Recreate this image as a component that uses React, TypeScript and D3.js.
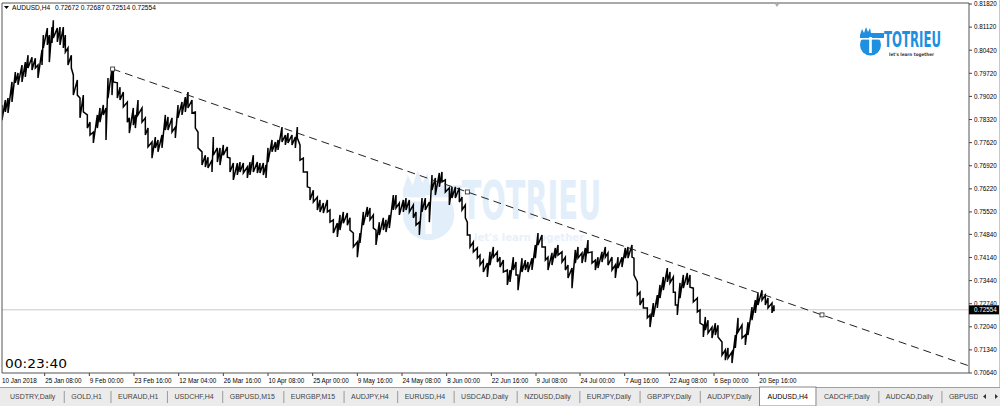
import React from 'react';
import * as d3 from 'd3';

// ---------- DATA ----------
const SYMBOL = 'AUDUSD,H4';
const HEADER_OHLC = ['0.72672', '0.72687', '0.72514', '0.72554'];
const BID = 0.72554;
const TIMER = '00:23:40';

// sampled H4 bar index (from 10 Jan 2018 00:00) with high / low readings
const BAR_IDX = [0,5,9,15,20,24,30,35,39,45,50,54,60,62,68,71,75,77,83,87,92,95,99,104,107,113,117,122,128,132,137,143,147,152,156,159,165,167,173,177,182,188,191,197,200,204,210,215,219,225,230,234,240,245,249,255,260,264,270,275,279,285,290,294,300,305,309,315,317,323,327,332,338,342,347,353,357,362,368,372,377,383,387,392,396,399,405,410,414,420,425,429,435,440,443,447,452,458,462,467,473,477,482,488,492,497,503,507,512,518,522,527,533,537,542,548,552,557,561,566,572,576,581,587,591,596,602,606,611,617,621,626,630,635,641,645,650,656,660,665,671,675,680,686,690,695,698,702,707,713,717,722,728,732,737,743,747,752,758,762,767,771,774,780,785,789,795,800,804,810,815,819,825,830,834,840,845,849,855,860,864,870,875,879,885,890,894,900,905,909,915,920,924,930,935,939,945,948,953,957,962,968,972,977,983,987,992,998,1002,1007,1010,1013,1017,1022,1028,1032,1037,1043,1047,1052,1055,1059,1065,1070,1074,1080,1085,1089,1095,1100,1104,1110,1115,1119,1125,1130,1134,1140,1145,1149,1155,1158];
const HIGH = [.7876,.7891,.7897,.7946,.7976,.7973,.7997,.8006,.8027,.8021,.8018,.7997,.8043,.8088,.8109,.8088,.8112,.8133,.8109,.8112,.8112,.8088,.8049,.8027,.7967,.7952,.7897,.7906,.7846,.7824,.7794,.7846,.7867,.7876,.7867,.7958,.7988,.7988,.7943,.7930,.7915,.7885,.7837,.7867,.7846,.7891,.7867,.7837,.7806,.7764,.7779,.7770,.7785,.7846,.7840,.7837,.7809,.7876,.7885,.7900,.7915,.7891,.7855,.7794,.7734,.7724,.7718,.7709,.7779,.7746,.7746,.7755,.7749,.7715,.7700,.7700,.7703,.7700,.7688,.7703,.7724,.7703,.7700,.7700,.7694,.7746,.7770,.7764,.7770,.7809,.7785,.7791,.7785,.7779,.7809,.7755,.7715,.7673,.7625,.7618,.7597,.7588,.7579,.7588,.7558,.7528,.7518,.7543,.7552,.7549,.7534,.7488,.7461,.7488,.7552,.7567,.7564,.7543,.7497,.7521,.7534,.7528,.7543,.7603,.7603,.7579,.7588,.7594,.7588,.7573,.7552,.7521,.7594,.7594,.7582,.7664,.7655,.7670,.7673,.7649,.7625,.7628,.7628,.7625,.7597,.7573,.7521,.7482,.7461,.7443,.7421,.7406,.7397,.7431,.7446,.7431,.7415,.7406,.7376,.7376,.7415,.7400,.7361,.7412,.7406,.7400,.7412,.7452,.7488,.7482,.7446,.7415,.7428,.7443,.7452,.7431,.7415,.7391,.7382,.7437,.7446,.7428,.7443,.7467,.7431,.7406,.7415,.7431,.7446,.7428,.7415,.7391,.7415,.7415,.7443,.7446,.7452,.7412,.7340,.7309,.7291,.7261,.7240,.7276,.7300,.7331,.7355,.7382,.7370,.7355,.7309,.7270,.7337,.7361,.7367,.7361,.7321,.7291,.7255,.7209,.7234,.7224,.7203,.7215,.7209,.7158,.7134,.7140,.7128,.7179,.7231,.7209,.7179,.7218,.7264,.7285,.7306,.7315,.7300,.7291,.7276,.7269];
const LOW = [.7830,.7855,.7852,.7885,.7943,.7937,.7946,.7961,.7988,.7982,.7988,.7958,.7997,.8049,.8058,.8006,.8064,.8079,.8067,.8058,.8049,.8036,.7997,.7988,.7906,.7906,.7837,.7855,.7806,.7785,.7761,.7806,.7824,.7846,.7770,.7897,.7906,.7946,.7897,.7891,.7870,.7824,.7791,.7815,.7806,.7846,.7824,.7785,.7749,.7715,.7746,.7734,.7746,.7800,.7800,.7794,.7776,.7837,.7846,.7855,.7867,.7852,.7806,.7746,.7694,.7688,.7685,.7673,.7724,.7703,.7694,.7724,.7718,.7673,.7649,.7664,.7673,.7670,.7655,.7664,.7673,.7670,.7670,.7664,.7655,.7703,.7734,.7734,.7740,.7764,.7755,.7761,.7755,.7746,.7776,.7709,.7673,.7628,.7588,.7582,.7558,.7552,.7549,.7552,.7521,.7488,.7476,.7497,.7518,.7512,.7497,.7446,.7415,.7458,.7512,.7537,.7528,.7503,.7452,.7482,.7497,.7491,.7503,.7558,.7564,.7543,.7552,.7558,.7552,.7534,.7512,.7482,.7552,.7558,.7521,.7618,.7603,.7628,.7643,.7612,.7573,.7594,.7594,.7582,.7558,.7534,.7482,.7446,.7431,.7412,.7391,.7370,.7355,.7391,.7415,.7400,.7385,.7370,.7331,.7340,.7376,.7361,.7315,.7370,.7376,.7370,.7376,.7412,.7452,.7446,.7406,.7376,.7391,.7412,.7421,.7400,.7376,.7352,.7321,.7397,.7412,.7397,.7400,.7428,.7397,.7376,.7382,.7400,.7415,.7391,.7376,.7352,.7382,.7385,.7412,.7412,.7415,.7361,.7300,.7270,.7261,.7231,.7203,.7234,.7261,.7291,.7315,.7340,.7337,.7309,.7270,.7240,.7291,.7321,.7331,.7324,.7279,.7249,.7215,.7173,.7194,.7185,.7170,.7179,.7173,.7118,.7103,.7109,.7094,.7140,.7188,.7170,.7149,.7179,.7224,.7246,.7270,.7285,.7270,.7261,.7246,.7251];

const Y_TICKS = ['0.81820','0.81120','0.80420','0.79720','0.79020','0.78320','0.77620','0.76920','0.76220','0.75520','0.74840','0.74140','0.73440','0.72740','0.72040','0.71340','0.70640'];
const X_TICK_BARS = [0,64,131,198,265,332,399,466,533,600,667,734,801,867,934,1001,1068,1135];
const X_TICK_LABELS = ['10 Jan 2018','25 Jan 08:00','9 Feb 00:00','23 Feb 16:00','12 Mar 04:00','26 Mar 16:00','10 Apr 08:00','25 Apr 00:00','9 May 16:00','24 May 08:00','8 Jun 00:00','22 Jun 16:00','9 Jul 08:00','24 Jul 00:00','7 Aug 16:00','22 Aug 08:00','6 Sep 00:00','20 Sep 16:00'];

// trend line anchors (bar index, price)
const TREND_BARS = [166, 1230];
const TREND_PRICES = [0.7985, 0.7240];

const TABS = ['USDTRY,Daily','GOLD,H1','EURAUD,H1','USDCHF,H4','GBPUSD,M15','EURGBP,M15','AUDJPY,H4','EURUSD,H4','USDCAD,Daily','NZDUSD,Daily','EURJPY,Daily','GBPJPY,Daily','AUDJPY,Daily','AUDUSD,H4','CADCHF,Daily','AUDCAD,Daily','GBPUSD,'];
const ACTIVE_TAB = 'AUDUSD,H4';

const LOGO_TITLE = 'TOTRIEU';
const LOGO_SUB = "let's learn together";

// ---------- LAYOUT ----------
const W = 1000, H = 406;
const PL = 2, PR = 969, PT = 3, PB = 373;
const AX_FONT = '"Liberation Sans", Arial, sans-serif';
const LOGO_FONT = '"DejaVu Sans", sans-serif';
const LOGO_BLUE = '#1f8fe0';

let measureCtx: CanvasRenderingContext2D | null = null;
function textWidth(s: string, font: string) {
  if (!measureCtx) measureCtx = document.createElement('canvas').getContext('2d');
  if (!measureCtx) return s.length * 4;
  measureCtx.font = font;
  return measureCtx.measureText(s).width;
}

// text squeezed horizontally to a target width by a transform (no textLength)
function FitText({ x, y, text, size, width, bold, fill, family }: { x: number; y: number; text: string; size: number; width: number; bold?: boolean; fill: string; family: string }) {
  const natural = textWidth(text, `${bold ? 'bold ' : ''}${size}px ${family}`) || width;
  const sx = width / natural;
  return (
    <g transform={`translate(${x},${y}) scale(${sx},1)`}>
      <text x={0} y={0} fontFamily={family} fontWeight={bold ? 'bold' : 'normal'} fontSize={size} fill={fill}>{text}</text>
    </g>
  );
}

function Logo({ x, y, s, color, sub }: { x: number; y: number; s: number; color: string; sub: string }) {
  return (
    <g transform={`translate(${x},${y}) scale(${s})`}>
      <path d="M2,9 L4,3 L6,7 L8,1 L10,6 L12,2 L13,7 L26,7 L26,12 L2,12 Z" fill={color} />
      <circle cx={12.5} cy={19} r={10.5} fill={color} />
      <rect x={11.2} y={11} width={2.6} height={16} fill="#fff" />
      <rect x={3} y={12} width={20} height={1.6} fill="#fff" />
      <FitText x={26} y={21} text={LOGO_TITLE} size={22} width={57} bold fill={color} family={LOGO_FONT} />
      <FitText x={31} y={29.6} text={LOGO_SUB} size={4.6} width={45} bold fill={sub} family={LOGO_FONT} />
    </g>
  );
}

export default function App() {
  const x = d3.scaleLinear().domain([0, 1158]).range([2, 774]);
  const y = d3.scaleLinear().domain([0.70640, 0.81820]).range([373, 4]);

  // price zigzag (bar chart look)
  let pricePath = '';
  BAR_IDX.forEach((b, i) => {
    const xi = x(b);
    pricePath += `${i === 0 ? 'M' : 'L'}${xi},${y(HIGH[i])}L${xi},${y(LOW[i])}`;
  });

  // trend line extended as ray
  const tx1 = x(TREND_BARS[0]), ty1 = y(TREND_PRICES[0]);
  const tx2 = x(TREND_BARS[1]), ty2 = y(TREND_PRICES[1]);
  const slope = (ty2 - ty1) / (tx2 - tx1);
  const txEnd = PR;
  const tyEnd = ty1 + slope * (txEnd - tx1);
  const anchors = [
    [tx1, ty1],
    [(tx1 + tx2) / 2, (ty1 + ty2) / 2],
    [tx2, ty2],
  ];

  // tabs layout
  const TAB_FONT_SIZE = 7;
  const tabFont = `${TAB_FONT_SIZE}px "Liberation Sans"`;
  let cursor = 10;
  const tabs = TABS.map((name) => {
    const w = textWidth(name, tabFont);
    const t = { name, x: cursor, w, divider: cursor + w + 9 };
    cursor = t.divider + 7;
    return t;
  });

  const bidY = y(BID);

  return (
    <div style={{ position: 'fixed', left: 0, top: 0, width: W, height: H, background: '#fff' }}>
      <svg width={W} height={H} viewBox={`0 0 ${W} ${H}`} style={{ display: 'block' }}>
        <defs>
          <clipPath id="plotClip">
            <rect x={PL} y={PT} width={PR - PL} height={PB - PT} />
          </clipPath>
        </defs>
        <rect x={0} y={0} width={W} height={H} fill="#fff" />

        {/* watermark */}
        <Logo x={398} y={168} s={2.45} color="#e2eef9" sub="#e8f1fa" />

        {/* corner logo */}
        <Logo x={858} y={26} s={1.0} color={LOGO_BLUE} sub="#333" />

        {/* bid line */}
        <line x1={PL} x2={PR} y1={bidY} y2={bidY} stroke="#c8c8c8" strokeWidth={1} />

        {/* price */}
        <g clipPath="url(#plotClip)">
          <path d={pricePath} fill="none" stroke="#000" strokeWidth={1.5} strokeLinejoin="miter" />
          <line x1={tx1} y1={ty1} x2={txEnd} y2={tyEnd} stroke="#222" strokeWidth={1} strokeDasharray="8,5" />
          {anchors.map((a, i) => (
            <rect key={i} x={a[0] - 2} y={a[1] - 2} width={4} height={4} fill="#fff" stroke="#222" strokeWidth={0.8} />
          ))}
        </g>

        {/* frame */}
        <line x1={PL} x2={PR} y1={PT} y2={PT} stroke="#555" strokeWidth={1} />
        <line x1={PL} x2={PL} y1={PT} y2={PB} stroke="#555" strokeWidth={1} />
        <line x1={PL} x2={PR} y1={PB} y2={PB} stroke="#555" strokeWidth={1} />
        <line x1={PR} x2={PR} y1={PT} y2={PB} stroke="#555" strokeWidth={1} />

        {/* chart shift marker */}
        <path d={`M${x(1158) + 1},${PT + 1} l4,0 l-2,3 z`} fill="#aaa" />

        {/* header */}
        <path d="M4,6 L9,6 L6.5,9 Z" fill="#000" />
        <text x={12} y={10} fontFamily={AX_FONT} fontSize={6.6} fill="#000">{SYMBOL}</text>
        <text x={55} y={10} fontFamily={AX_FONT} fontSize={6.6} fill="#000">{HEADER_OHLC.join(' ')}</text>

        {/* y axis */}
        {Y_TICKS.map((t) => {
          const yy = y(+t);
          return (
            <g key={t}>
              <line x1={PR} x2={PR + 3} y1={yy} y2={yy} stroke="#444" strokeWidth={1} />
              <text x={974} y={yy + 2.3} fontFamily={AX_FONT} fontSize={6.3} fill="#000">{t}</text>
            </g>
          );
        })}
        <rect x={PR} y={bidY - 4.5} width={31} height={9} fill="#000" />
        <text x={974} y={bidY + 2.3} fontFamily={AX_FONT} fontSize={6.3} fill="#fff">{BID.toFixed(5)}</text>

        {/* x axis */}
        {X_TICK_BARS.map((b, i) => {
          const xx = x(b);
          return (
            <g key={i}>
              {i > 0 && <line x1={xx} x2={xx} y1={PB} y2={PB + 3} stroke="#444" strokeWidth={1} />}
              <text x={xx + (i === 0 ? 0 : 0.5)} y={383} fontFamily={AX_FONT} fontSize={6.3} fill="#000">{X_TICK_LABELS[i]}</text>
            </g>
          );
        })}

        {/* timer */}
        <FitText x={5} y={368} text={TIMER} size={12.5} width={62} fill="#000" family={LOGO_FONT} />

        {/* tab strip */}
        <rect x={0} y={387} width={W} height={H - 387} fill="#ebebeb" />
        <line x1={0} x2={W} y1={387.5} y2={387.5} stroke="#a0a0a0" strokeWidth={1} />
        {tabs.map((t, i) => {
          const active = t.name === ACTIVE_TAB;
          const next = tabs[i + 1];
          const showDivider = !active && next && next.name !== ACTIVE_TAB && i < tabs.length - 1;
          return (
            <g key={t.name + i}>
              {active && (
                <rect x={t.x - 8} y={387} width={t.w + 16} height={19} fill="#fff" stroke="#888" strokeWidth={1} />
              )}
              <text x={t.x} y={399} fontFamily={AX_FONT} fontSize={TAB_FONT_SIZE} fill={active ? '#000' : '#444'}>{t.name}</text>
              {showDivider && <line x1={t.divider} x2={t.divider} y1={391} y2={403} stroke="#999" strokeWidth={1} />}
            </g>
          );
        })}
        {/* scroll arrows */}
        <rect x={978} y={388} width={22} height={18} fill="#ebebeb" />
        <path d="M983,396.5 L986,394 L986,399 Z" fill="#333" />
        <path d="M995,394 L998,396.5 L995,399 Z" fill="#333" />
        <line x1={999.5} x2={999.5} y1={0} y2={387} stroke="#c8c8c8" strokeWidth={1} />
      </svg>
    </div>
  );
}
